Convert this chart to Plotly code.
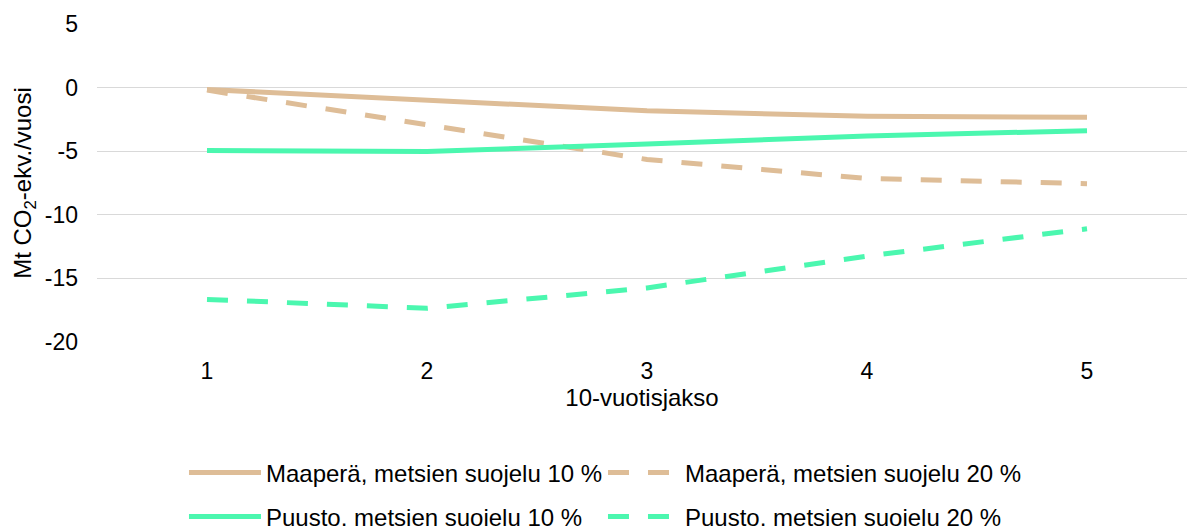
import plotly.graph_objects as go

periods = [1, 2, 3, 4, 5]
maapera_10 = [-0.15, -0.98, -1.82, -2.26, -2.33]
maapera_20 = [-0.2, -2.95, -5.65, -7.15, -7.55]
puusto_10 = [-4.95, -5.03, -4.43, -3.8, -3.39]
puusto_20 = [-16.65, -17.35, -15.75, -13.25, -11.1]

names = ["Maaperä, metsien suojelu 10 %", "Maaperä, metsien suojelu 20 %",
         "Puusto, metsien suojelu 10 %", "Puusto, metsien suojelu 20 %"]
tan = "#DEBD97"
green = "#4BF7AF"

fig = go.Figure()
series = [(maapera_10, tan, "solid", "legend"),
          (maapera_20, tan, "21px,19px", "legend"),
          (puusto_10, green, "solid", "legend2"),
          (puusto_20, green, "21px,19px", "legend2")]
for (vals, col, dash, lg), nm in zip(series, names):
    fig.add_trace(go.Scatter(
        x=periods, y=vals, name=nm, mode="lines",
        line=dict(color=col, width=5, dash=dash),
        legend=lg, hoverinfo="skip"))

fam = "Liberation Sans, Arial, sans-serif"
font = dict(family=fam, size=24, color="#000000")
tickfont = dict(family=fam, size=23, color="#000000")
legfont = dict(family=fam, size=24, color="#000000")
fig.update_layout(
    width=1187, height=526,
    margin=dict(l=97, r=0, t=24, b=184, autoexpand=False),
    paper_bgcolor="white", plot_bgcolor="white",
    font=font,
    xaxis=dict(range=[0.5, 5.4545], tickvals=periods, ticktext=[str(p) for p in periods],
               showgrid=False, zeroline=False, showline=False, ticks="",
               tickfont=tickfont, ticklabelstandoff=13, automargin=False,
               title=dict(text="10-vuotisjakso", font=font, standoff=6)),
    yaxis=dict(range=[-20, 5], tickvals=[5, 0, -5, -10, -15, -20],
               ticktext=["5", "0", "-5", "-10", "-15", "-20"],
               showgrid=True, gridcolor="#D9D9D9", gridwidth=1.3,
               zeroline=False, showline=False, ticks="", ticklabelstandoff=18,
               tickfont=tickfont, automargin=False,
               title=dict(text="Mt CO<sub>2</sub>-ekv./vuosi", font=font, standoff=6)),
    legend=dict(orientation="h", x=0.0798, y=1 - 473 / 526, yref="container",
                xanchor="left", yanchor="middle",
                entrywidth=332, entrywidthmode="pixels", font=legfont,
                bgcolor="rgba(0,0,0,0)", itemwidth=72),
    legend2=dict(orientation="h", x=0.0798, y=1 - 517 / 526, yref="container",
                 xanchor="left", yanchor="middle",
                 entrywidth=332, entrywidthmode="pixels", font=legfont,
                 bgcolor="rgba(0,0,0,0)", itemwidth=72),
)
fig.write_html("out.html", config={"displayModeBar": False},
               post_script="document.body.style.margin='0';document.body.style.overflow='hidden';")
